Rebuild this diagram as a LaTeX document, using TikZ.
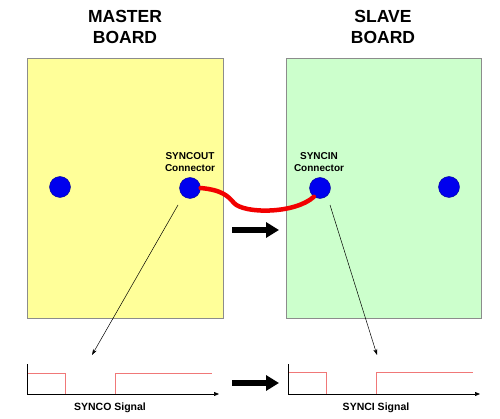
\documentclass[tikz,border=0pt]{standalone}
\usepackage{fontspec}
\setmainfont{Liberation Sans}
\usetikzlibrary{arrows.meta}
\definecolor{masterfill}{HTML}{FFFF99}
\definecolor{slavefill}{HTML}{CCFFCC}
\definecolor{boardline}{HTML}{8C8C8C}
\definecolor{sigred}{HTML}{F07878}
\definecolor{dotblue}{HTML}{0000EE}
\tikzset{
  board/.style={draw=boardline, line width=0.8pt, inner sep=0pt},
  title/.style={font=\fontsize{17.5}{21}\selectfont\bfseries, align=center, inner sep=0pt},
  conlabel/.style={font=\fontsize{10}{12}\selectfont\bfseries, align=center, inner sep=0pt},
  siglabel/.style={font=\fontsize{10.5}{12}\selectfont\bfseries, inner sep=0pt},
  dot/.style={circle, fill=dotblue, draw=blue!60!black, line width=0.4pt, minimum size=21pt, inner sep=0pt},
  cable/.style={draw=red!95!black, line width=4.5pt, line cap=round},
  pointer/.style={draw=black, line width=0.5pt, -{Stealth[length=6pt,width=4pt]}},
  bigarrow/.style={draw=black, line width=6.5pt, -{Triangle[length=13pt,width=15pt]}},
  axis/.style={draw=black, line width=0.7pt},
  signal/.style={draw=sigred, line width=0.8pt},
}
\begin{document}
\begin{tikzpicture}[x=1pt,y=-1pt]
\useasboundingbox (0,0) rectangle (500,419);
% titles
\node[title] (mt) at (125,27) {MASTER\\BOARD};
\node[title] (st) at (383,27) {SLAVE\\BOARD};
% boards
\node[board, fill=masterfill, minimum width=196pt, minimum height=260pt] (mb) at (125,188) {};
\node[board, fill=slavefill, minimum width=195pt, minimum height=260pt] (sb) at (383.5,188) {};
% connector labels
\node[conlabel] (sol) at (190,162) {SYNCOUT\\Connector};
\node[conlabel] (sil) at (319,162) {SYNCIN\\Connector};
% dots
\node[dot] (d1) at (60,187) {};
\node[dot] (so) at (190,188) {};
\node[dot] (si) at (320,188) {};
\node[dot] (d4) at (449,187) {};
% cable
\draw[cable] (so.east) .. controls (222,190) and (228,196) .. (234,203)
  .. controls (244,214) and (295,214) .. (si.-125);
% big arrows
\coordinate (a1s) at (232,230);
\coordinate (a1e) at (279,230);
\draw[bigarrow] (a1s) -- (a1e);
\coordinate (a2s) at (232,383);
\coordinate (a2e) at (279,383);
\draw[bigarrow] (a2s) -- (a2e);
% pointers
\coordinate (p1s) at (178,205);
\coordinate (p1e) at (92,355);
\draw[pointer] (p1s) -- (p1e);
\coordinate (p2s) at (330,205);
\coordinate (p2e) at (377,355);
\draw[pointer] (p2s) -- (p2e);
% left signal
\coordinate (o1) at (27,394);
\coordinate (o1t) at (27,364);
\coordinate (o1r) at (219,394);
\draw[signal] (27.5,373) -- (65,373) -- (65,394);
\draw[signal] (115,394) -- (115,373) -- (212,373);
\draw[axis] (o1t) -- (o1);
\draw[axis, -{Triangle[length=5pt,width=4pt]}] (o1) -- (o1r);
\node[siglabel] (l1) at (110,408) {SYNCO Signal};
% right signal
\coordinate (o2) at (288,394);
\coordinate (o2t) at (288,364);
\coordinate (o2r) at (480,394);
\draw[signal] (288.5,372.5) -- (326,372.5) -- (326,394);
\draw[signal] (376,394) -- (376,372.5) -- (473,372.5);
\draw[axis] (o2t) -- (o2);
\draw[axis, -{Triangle[length=5pt,width=4pt]}] (o2) -- (o2r);
\node[siglabel] (l2) at (376,408) {SYNCI Signal};
\end{tikzpicture}
\end{document}
